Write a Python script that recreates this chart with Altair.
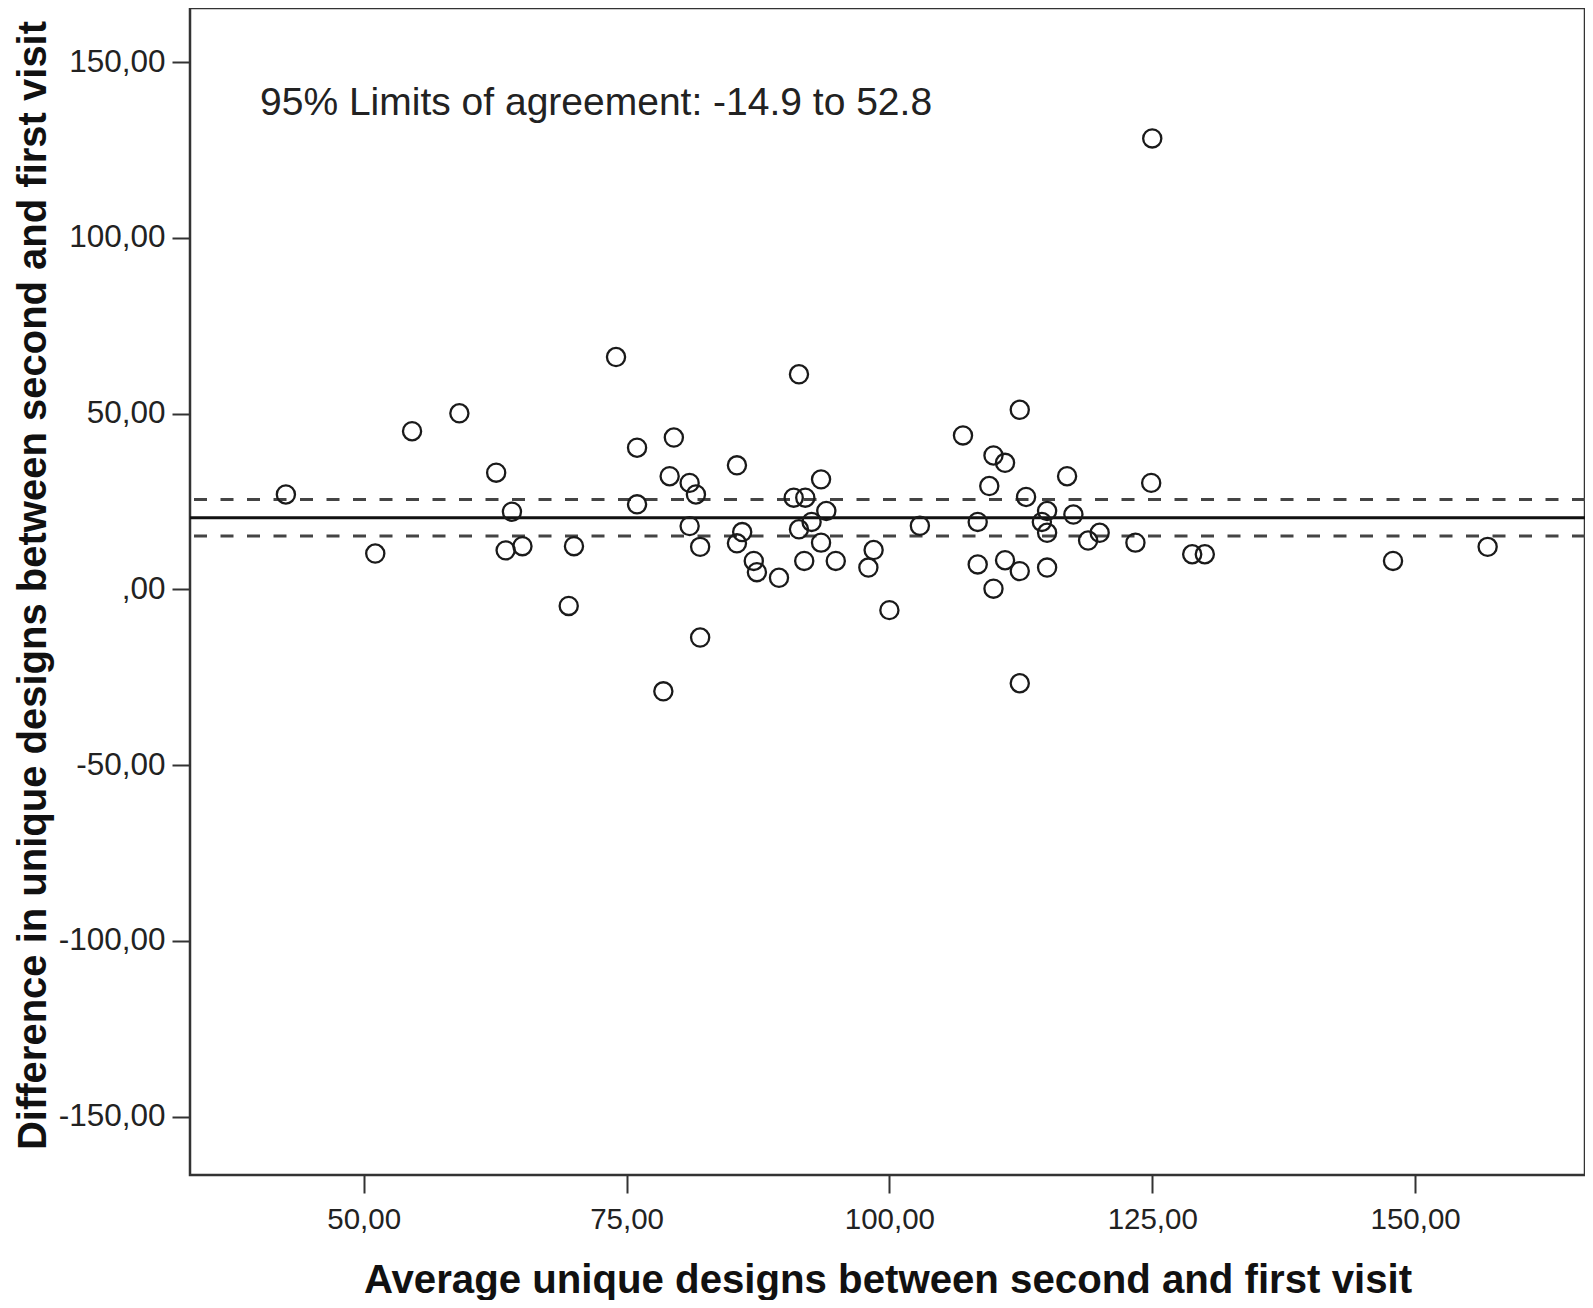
import altair as alt
import pandas as pd

# Bland-Altman data
avg_values = [42.6, 51.1, 54.6, 59.1, 62.6, 64.1, 63.5, 65.1, 70.0, 69.5,
              74.0, 76.0, 76.0, 79.5, 79.1, 81.0, 81.6, 78.5, 81.0, 82.0,
              82.0, 85.5, 86.0, 85.5, 87.1, 87.4, 89.5, 91.4, 90.9, 92.0,
              93.5, 94.0, 92.6, 91.4, 93.5, 91.9, 94.9, 98.5, 98.0, 100.0,
              102.9, 107.0, 109.9, 111.0, 109.5, 116.9, 124.9, 113.0, 108.4, 115.0,
              114.5, 115.0, 117.5, 118.9, 120.0, 123.4, 108.4, 111.0, 112.4, 115.0,
              109.9, 112.4, 112.4, 125.0, 128.8, 130.0, 147.9, 156.9]
diff_values = [27.0, 10.2, 45.0, 50.1, 33.2, 22.1, 11.1, 12.3, 12.3, -4.7,
               66.1, 40.3, 24.2, 43.2, 32.2, 30.3, 27.0, -29.0, 18.0, 12.1,
               -13.7, 35.3, 16.3, 13.1, 8.1, 4.9, 3.3, 61.2, 26.1, 26.1,
               31.3, 22.3, 19.2, 17.1, 13.3, 8.1, 8.1, 11.2, 6.2, -5.9,
               18.1, 43.8, 38.1, 36.0, 29.4, 32.2, 30.3, 26.3, 19.2, 22.3,
               19.2, 16.1, 21.3, 13.9, 16.1, 13.3, 7.1, 8.3, 5.2, 6.2,
               0.2, 51.1, -26.7, 128.3, 10.0, 10.0, 8.1, 12.1]

mean_line = [20.4]
dashed_lines = [25.6, 15.2]

x_ticks = [50, 75, 100, 125, 150]
y_ticks = [-150, -100, -50, 0, 50, 100, 150]
x_domain = [33.48, 166.16]
y_domain = [-166.6, 165.4]

annotation_text = ["95% Limits of agreement: -14.9 to 52.8"]
annotation_x = [40.14]
annotation_y = [134.85]

x_title = "Average unique designs between second and first visit"
y_title = "Difference in unique designs between second and first visit"

FONT = "Liberation Sans"
W, H = 1395, 1167

points = pd.DataFrame({"avg": avg_values, "diff": diff_values})
mean_df = pd.DataFrame({"y": mean_line})
dash_df = pd.DataFrame({"y": dashed_lines})
ann_df = pd.DataFrame({"x": annotation_x, "y": annotation_y, "t": annotation_text})

num_expr = ("datum.value == 0 ? ',00' : (datum.value < 0 ? '-' : '') + "
            "replace(format(abs(datum.value), '.2f'), '.', ',')")

x_scale = alt.Scale(domain=x_domain, nice=False, zero=False)
y_scale = alt.Scale(domain=y_domain, nice=False, zero=False)

x_axis = alt.Axis(values=x_ticks, labelExpr=num_expr, grid=False, domain=False,
                  tickSize=18, tickWidth=2, tickColor="#333",
                  labelFont=FONT, labelFontSize=29.5, labelColor="#222", labelPadding=12,
                  title=x_title, titleFont=FONT, titleFontSize=40.2, titleFontWeight="bold",
                  titleColor="#111", titleX=W / 2, titleY=117, titleAlign="center",
                  titleBaseline="alphabetic")
y_axis = alt.Axis(values=y_ticks, labelExpr=num_expr, grid=False, domain=False,
                  tickSize=18, tickWidth=2, tickColor="#333",
                  labelFont=FONT, labelFontSize=31.5, labelColor="#222", labelPadding=7,
                  title=y_title, titleFont=FONT, titleFontSize=40, titleFontWeight="bold",
                  titleColor="#111", titleAngle=270, titleX=-157, titleY=577,
                  titleAlign="center", titleBaseline="middle")

pts = alt.Chart(points).mark_point(
    shape="circle", filled=False, size=330, strokeWidth=2.3, color="#1a1a1a", opacity=1
).encode(
    x=alt.X("avg:Q", scale=x_scale, axis=x_axis),
    y=alt.Y("diff:Q", scale=y_scale, axis=y_axis),
)

mean_rule = alt.Chart(mean_df).mark_rule(color="#111", strokeWidth=3).encode(
    y=alt.Y("y:Q", scale=y_scale)
)
dash_rule = alt.Chart(dash_df).mark_rule(color="#444", strokeWidth=3, strokeDash=[13, 13.5]).encode(
    y=alt.Y("y:Q", scale=y_scale)
)
ann = alt.Chart(ann_df).mark_text(
    font=FONT, fontSize=39, color="#222", align="left", baseline="alphabetic"
).encode(
    x=alt.X("x:Q", scale=x_scale),
    y=alt.Y("y:Q", scale=y_scale),
    text="t:N",
)

chart = alt.layer(dash_rule, mean_rule, pts, ann).properties(
    width=W, height=H,
    autosize=alt.AutoSizeParams(type="none"),
    padding={"left": 182, "top": 0, "right": 0, "bottom": 125},
).configure(
    background="white",
    view=alt.ViewConfig(stroke="#333", strokeWidth=2.5),
)

chart.save("out.html", embed_options={"renderer": "svg", "actions": False})
